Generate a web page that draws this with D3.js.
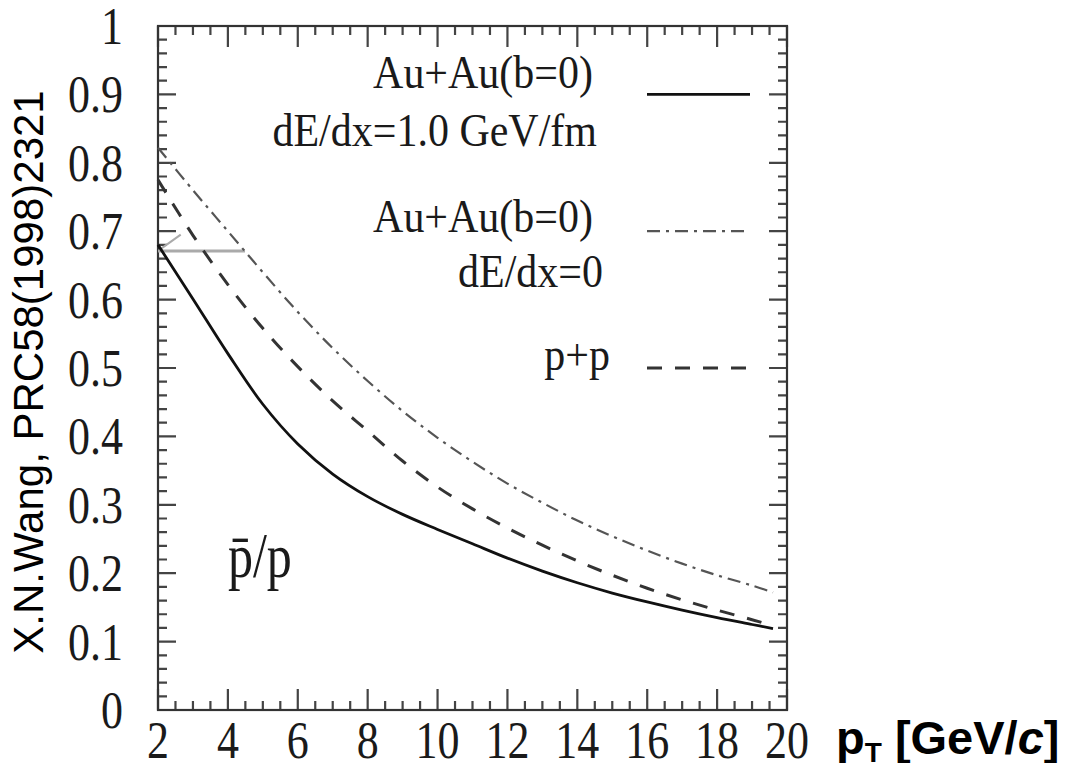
<!DOCTYPE html>
<html>
<head>
<meta charset="utf-8">
<script src="https://cdn.jsdelivr.net/npm/d3@7"></script>
<style>
  html, body { margin: 0; padding: 0; background: #fff; }
  svg { display: block; }
  .serif { font-family: "Liberation Serif", "Times New Roman", serif; fill: #1a1a1a; }
  .sans { font-family: "Liberation Sans", Arial, sans-serif; fill: #000; }
</style>
</head>
<body>
<div id="chart"></div>
<script>
// data
const pt = [2, 3, 4, 5, 6, 7, 8, 9, 10, 11, 12, 13, 14, 15, 16, 17, 18, 19, 19.6];
const auAuLoss   = [0.680, 0.601, 0.521, 0.447, 0.389, 0.345, 0.312, 0.286, 0.264, 0.243, 0.222, 0.203, 0.186, 0.171, 0.158, 0.146, 0.135, 0.125, 0.119];
const auAuNoLoss = [0.822, 0.760, 0.700, 0.640, 0.582, 0.529, 0.481, 0.437, 0.398, 0.363, 0.331, 0.303, 0.277, 0.254, 0.233, 0.214, 0.197, 0.182, 0.172];
const ppRatio    = [0.775, 0.694, 0.622, 0.558, 0.502, 0.452, 0.408, 0.364, 0.326, 0.294, 0.266, 0.241, 0.218, 0.197, 0.178, 0.161, 0.146, 0.132, 0.123];

// gray annotation marks near the start of the curves
const markLevel = [[2, 0.671], [4.49, 0.671]];
const markSlant = [[2.05, 0.673], [2.65, 0.695]];

const xTickValues = [2, 4, 6, 8, 10, 12, 14, 16, 18, 20];
const yTickValues = [0, 0.1, 0.2, 0.3, 0.4, 0.5, 0.6, 0.7, 0.8, 0.9, 1];
const yTickLabels = ["0", "0.1", "0.2", "0.3", "0.4", "0.5", "0.6", "0.7", "0.8", "0.9", "1"];

const legendLines = [["Au+Au(b=0)", "dE/dx=1.0 GeV/fm"], ["Au+Au(b=0)", "dE/dx=0"], ["p+p"]];
const legendLevels = [0.9, 0.7, 0.5];

// layout
const W = 1081, H = 763,
  m = { top: 26, right: 294, bottom: 53, left: 158 },
  w = W - m.left - m.right,
  h = H - m.top - m.bottom;

const svg = d3.select("#chart").append("svg")
  .attr("width", W)
  .attr("height", H);

svg.append("rect").attr("width", W).attr("height", H).attr("fill", "#fff");

const x = d3.scaleLinear().domain([2, 20]).range([m.left, m.left + w]);
const y = d3.scaleLinear().domain([0, 1]).range([m.top + h, m.top]);

// ticks on all four sides, pointing inward (one path)
const minorX = d3.range(2, 20.01, 0.5);
const minorY = d3.range(0, 1.001, 0.02);
const isMajorX = v => Math.abs(v / 2 - Math.round(v / 2)) < 1e-6;
const isMajorY = v => Math.abs(v * 10 - Math.round(v * 10)) < 1e-6;

let tickPath = "";
minorX.forEach(v => {
  const len = isMajorX(v) ? 21 : 9;
  tickPath += `M${x(v)},${y(0)}v${-len}M${x(v)},${y(1)}v${len}`;
});
minorY.forEach(v => {
  const len = isMajorY(v) ? 18 : 9;
  tickPath += `M${x(2)},${y(v)}h${len}M${x(20)},${y(v)}h${-len}`;
});
svg.append("path")
  .attr("d", tickPath)
  .attr("fill", "none")
  .attr("stroke", "#444")
  .attr("stroke-width", 2.2);

// frame
svg.append("rect")
  .attr("x", x(2)).attr("y", y(1))
  .attr("width", x(20) - x(2)).attr("height", y(0) - y(1))
  .attr("fill", "none").attr("stroke", "#333").attr("stroke-width", 2.2);

// tick labels (stretched serif, like the scanned figure)
const stretch = 1.18;
yTickValues.forEach((v, i) => {
  svg.append("g")
    .attr("transform", `translate(123, ${y(v) + 18}) scale(1, ${stretch})`)
    .append("text").attr("class", "serif")
    .attr("text-anchor", "end")
    .attr("font-size", 44)
    .text(yTickLabels[i]);
});

xTickValues.forEach(v => {
  svg.append("g")
    .attr("transform", `translate(${x(v)}, 758) scale(1, ${stretch})`)
    .append("text").attr("class", "serif")
    .attr("text-anchor", "middle")
    .attr("font-size", 44)
    .text(v);
});

// curves
const line = d3.line()
  .x(d => x(d[0]))
  .y(d => y(d[1]))
  .curve(d3.curveCatmullRom.alpha(0.5));

const styles = [
  { stroke: "#111", width: 2.8, dash: null },
  { stroke: "#555", width: 2.2, dash: "13,6,3,6" },
  { stroke: "#333", width: 3, dash: "15,13" }
];
const series = [auAuLoss, auAuNoLoss, ppRatio];

const straight = d3.line().x(d => x(d[0])).y(d => y(d[1]));
svg.append("path")
  .attr("d", straight(markLevel))
  .attr("fill", "none").attr("stroke", "#aaa").attr("stroke-width", 3);
svg.append("path")
  .attr("d", straight(markSlant))
  .attr("fill", "none").attr("stroke", "#aaa").attr("stroke-width", 2);

series.forEach((s, i) => {
  svg.append("path")
    .attr("d", line(pt.map((p, j) => [p, s[j]])))
    .attr("fill", "none")
    .attr("stroke", styles[i].stroke)
    .attr("stroke-width", styles[i].width)
    .attr("stroke-dasharray", styles[i].dash);
});

// legend
const legendText = [
  [[593, 88], [597, 146]],
  [[593, 232], [603, 287]],
  [[610, 370]]
];
legendLines.forEach((lines, i) => {
  lines.forEach((t, k) => {
    const pos = legendText[i][k];
    svg.append("g")
      .attr("transform", `translate(${pos[0]}, ${pos[1]}) scale(1, 1.12)`)
      .append("text").attr("class", "serif")
      .attr("text-anchor", "end")
      .attr("font-size", 42)
      .text(t);
  });
  svg.append("line")
    .attr("x1", 647).attr("x2", 750)
    .attr("y1", y(legendLevels[i])).attr("y2", y(legendLevels[i]))
    .attr("stroke", styles[i].stroke)
    .attr("stroke-width", styles[i].width)
    .attr("stroke-dasharray", styles[i].dash);
});

// p-bar/p label
svg.append("g")
  .attr("transform", `translate(${x(4)}, 577) scale(1, 1.25)`)
  .append("text").attr("class", "serif")
  .attr("font-size", 50)
  .text("p\u0304/p");

// rotated reference label
svg.append("text")
  .attr("class", "sans")
  .attr("transform", "translate(43, 372) rotate(-90)")
  .attr("text-anchor", "middle")
  .attr("font-size", 42)
  .text("X.N.Wang, PRC58(1998)2321");

// x axis title
const xt = svg.append("text")
  .attr("class", "sans")
  .attr("x", 836).attr("y", 754)
  .attr("font-size", 47)
  .attr("font-weight", "bold");
xt.append("tspan").text("p");
xt.append("tspan").attr("font-size", 28).attr("dy", 8).text("T");
xt.append("tspan").attr("dy", -8).text(" [GeV/");
xt.append("tspan").attr("font-style", "italic").text("c");
xt.append("tspan").text("]");
</script>
</body>
</html>
